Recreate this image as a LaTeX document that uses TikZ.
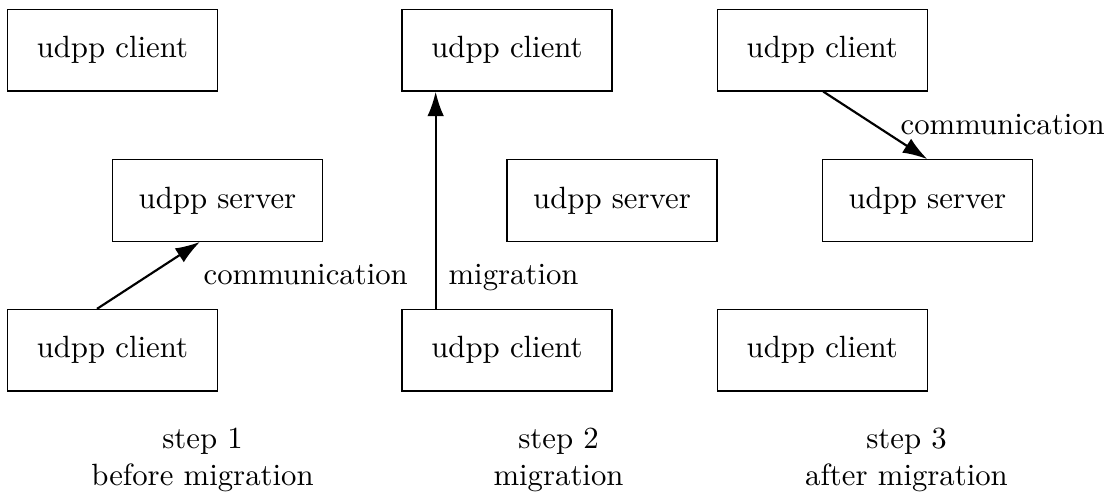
\documentclass[tikz,border=0pt]{standalone}
\usetikzlibrary{arrows.meta}
\begin{document}
\begin{tikzpicture}[x=0.3252pt,y=-0.3252pt,
  box/.style={draw,line width=0.4pt,minimum width=68.3pt,minimum height=26.5pt,inner sep=0pt},
  conn/.style={line width=0.7pt,-{Latex[length=8pt,width=5.4pt]}},
  lbl/.style={inner sep=0pt,anchor=base west},
  steplbl/.style={align=center,inner sep=0pt,anchor=base}]
\useasboundingbox (0,0) rectangle (1111,493);
% step 1
\node[box] (c1t) at (112.4,50.2) {udpp client};
\node[box] (s1)  at (217.5,200.5) {udpp server};
\node[box] (c1b) at (112.4,350.2) {udpp client};
% step 2
\node[box] (c2t) at (507,50.2) {udpp client};
\node[box] (s2)  at (612,200.5) {udpp server};
\node[box] (c2b) at (507,350.2) {udpp client};
% step 3
\node[box] (c3t) at (822.3,50.2) {udpp client};
\node[box] (s3)  at (927.3,200.5) {udpp server};
\node[box] (c3b) at (822.3,350.2) {udpp client};
% connectors
\draw[conn] ([xshift=-5pt]c1b.north) -- ([xshift=-5.7pt]s1.south);
\draw[conn] ([xshift=-23.2pt]c2b.north) -- ([xshift=-23.2pt]c2t.south);
\draw[conn] ([xshift=0.3pt]c3t.south) -- (s3.north);
% connector labels
\node[lbl] (l1) at (203,284) {communication};
\node[lbl] (l2) at (448,284) {migration};
\node[lbl] (l3) at (900,135) {communication};
% step labels
\node[steplbl] (st1) at (202.5,485) {step 1\\before migration};
\node[steplbl] (st2) at (558.5,485) {step 2\\migration};
\node[steplbl] (st3) at (906.5,485) {step 3\\after migration};
\end{tikzpicture}
\end{document}
